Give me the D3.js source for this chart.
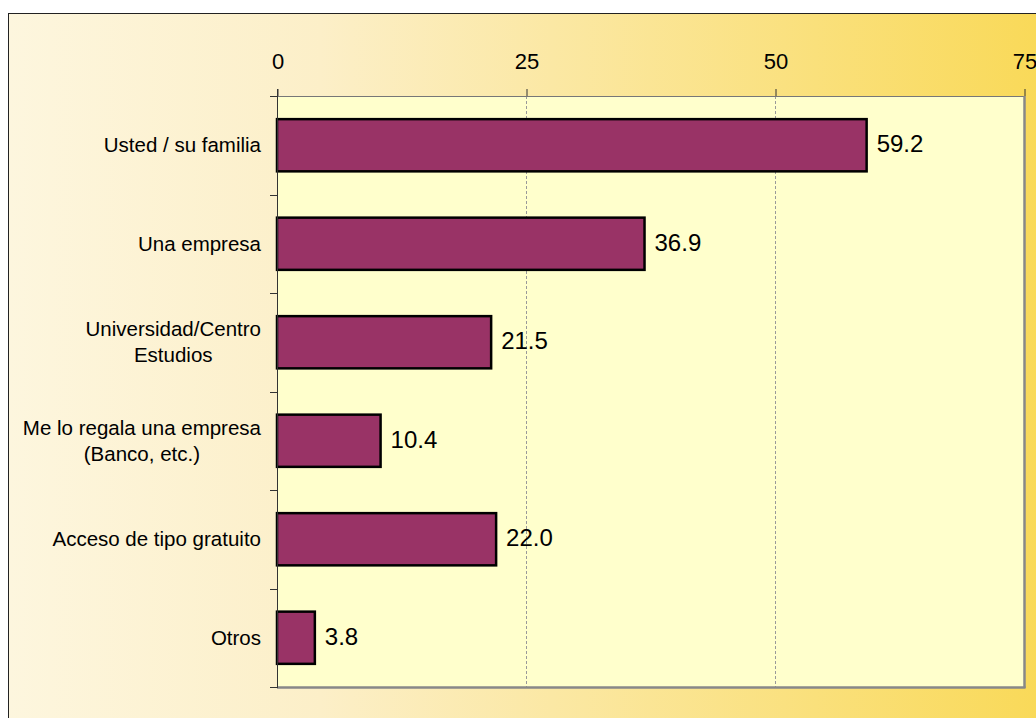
<!DOCTYPE html>
<html><head><meta charset="utf-8">
<script src="https://cdn.jsdelivr.net/npm/d3@7"></script>
<style>body{margin:0;background:#fff}svg{display:block}</style>
</head><body>
<svg id="c" width="1036" height="718"></svg>
<script>
const categories = ["Usted / su familia","Una empresa","Universidad/Centro\nEstudios","Me lo regala una empresa\n(Banco, etc.)","Acceso de tipo gratuito","Otros"];
const values = [59.2, 36.9, 21.5, 10.4, 22.0, 3.8];
const xTicks = [0, 25, 50, 75];

const svg = d3.select("#c");
const defs = svg.append("defs");
const g = defs.append("linearGradient").attr("id","bg").attr("x1","0").attr("x2","1").attr("y1","0").attr("y2","0");
g.append("stop").attr("offset","0%").attr("stop-color","#fdf6de");
g.append("stop").attr("offset","30%").attr("stop-color","#fcefc8");
g.append("stop").attr("offset","100%").attr("stop-color","#f9d957");

svg.append("rect").attr("x",8.5).attr("y",13.5).attr("width",1040).attr("height",720)
  .attr("fill","url(#bg)").attr("stroke","#222").attr("stroke-width",1);

const L=277, R=1024, T=96, B=687;
const FONT = "Liberation Sans, Arial, sans-serif";
const x = d3.scaleLinear().domain([0,75]).range([L,R]);
const y = d3.scaleBand().domain(categories).range([T,B]).paddingInner(0.47).paddingOuter(0.235);
const yb = d3.scaleBand().domain(categories).range([T,B]);

svg.append("rect").attr("x",L).attr("y",T).attr("width",R-L).attr("height",B-T).attr("fill","#ffffcc");

// gridlines
svg.append("g").selectAll("line").data(xTicks.filter(d=>d>0&&d<75)).join("line")
  .attr("x1",d=>x(d)+0.5).attr("x2",d=>x(d)+0.5).attr("y1",T).attr("y2",B)
  .attr("stroke","#999").attr("stroke-dasharray","3,2").attr("stroke-width",1);

// plot frame
svg.append("line").attr("x1",L).attr("x2",R).attr("y1",T+0.5).attr("y2",T+0.5).attr("stroke","#777");
svg.append("line").attr("x1",R+0.5).attr("x2",R+0.5).attr("y1",T).attr("y2",B+1).attr("stroke","#888").attr("stroke-width",2.5);
svg.append("line").attr("x1",L).attr("x2",R+1.5).attr("y1",B+0.5).attr("y2",B+0.5).attr("stroke","#888").attr("stroke-width",2.5);

// x axis at top
const xAxis = d3.axisTop(x).tickValues(xTicks).tickSize(7).tickSizeOuter(0).tickPadding(20).tickFormat(d3.format("d"));
const xa = svg.append("g").attr("transform",`translate(0.5,${T})`).call(xAxis);
xa.select(".domain").remove();
xa.selectAll(".tick line").attr("stroke","#333");
xa.selectAll(".tick text").attr("font-family",FONT).attr("font-size",22).attr("fill","#000");

// bars
svg.append("g").selectAll("rect").data(values).join("rect")
  .attr("x",x(0)).attr("y",(d,i)=>y(categories[i]))
  .attr("width",d=>x(d)-x(0)).attr("height",y.bandwidth())
  .attr("fill","#993366").attr("stroke","#000").attr("stroke-width",2.5);

// y axis line and ticks at band boundaries
svg.append("line").attr("x1",L+0.5).attr("x2",L+0.5).attr("y1",T-7).attr("y2",B+1).attr("stroke","#333");
const bounds = categories.map(c=>yb(c)).concat([B]);
svg.append("g").selectAll("line").data(bounds).join("line")
  .attr("x1",L-7).attr("x2",L).attr("y1",d=>Math.round(d)+0.5).attr("y2",d=>Math.round(d)+0.5).attr("stroke","#333");

// value labels
svg.append("g").selectAll("text").data(values).join("text")
  .attr("x",d=>x(d)+10).attr("y",(d,i)=>y(categories[i])+y.bandwidth()/2)
  .attr("dy","0.3em").attr("font-family",FONT).attr("font-size",24)
  .text(d=>d3.format(".1f")(d));

// category labels
const labG = svg.append("g").attr("font-family",FONT).attr("font-size",20.5).attr("fill","#000");
categories.forEach(c=>{
  const lines = c.split("\n");
  const cy = yb(c)+yb.bandwidth()/2;
  const t = labG.append("text").attr("text-anchor","middle");
  lines.forEach((ln,j)=>{
    t.append("tspan").attr("y",cy + (j-(lines.length-1)/2)*26).attr("dy","0.35em").text(ln);
  });
  const spans = t.selectAll("tspan").nodes();
  const maxW = d3.max(spans, s=>s.getComputedTextLength());
  t.selectAll("tspan").attr("x", 261 - maxW/2);
});
</script>
</body></html>
